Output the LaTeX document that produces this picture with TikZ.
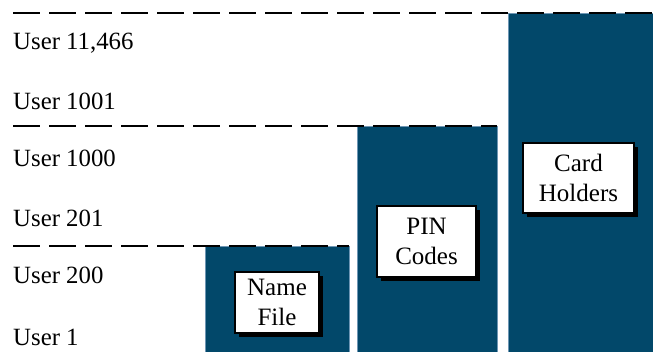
\documentclass[tikz,border=0pt]{standalone}
\usepackage{fontspec}
\setmainfont{Liberation Serif}
\usetikzlibrary{shadows}
\definecolor{barblue}{RGB}{2,72,106}
\definecolor{baredge}{RGB}{110,150,180}
\begin{document}
\begin{tikzpicture}[x=1pt,y=-1pt,
  bar/.style={fill=barblue,draw=baredge,line width=0.9pt},
  level/.style={draw=black,line width=2pt,dash pattern=on 27pt off 9pt},
  userlbl/.style={anchor=base west,inner sep=0pt,font=\fontsize{24.8}{28}\selectfont},
  tag/.style={draw=black,fill=white,line width=1.4pt,align=center,inner sep=0pt,
    font=\fontsize{25}{29.5}\selectfont,
    drop shadow={shadow xshift=4pt,shadow yshift=-4pt,fill=black,opacity=1}}]
\useasboundingbox (0,0) rectangle (653,352);

% storage bars
\path[bar] (205.5,246) rectangle (349,353);
\path[bar] (357.5,126) rectangle (497,353);
\path[bar] (508.5,13) rectangle (654,353);

% range boundaries
\draw[level] (13,13) -- (653,13);
\draw[level] (13,126) -- (497,126);
\draw[level] (13,246) -- (349,246);

% user numbers
\node[userlbl] (u11466) at (13,50) {User 11,466};
\node[userlbl] (u1001) at (13,110) {User 1001};
\node[userlbl] (u1000) at (13,167) {User 1000};
\node[userlbl] (u201) at (13,227) {User 201};
\node[userlbl] (u200) at (13,284) {User 200};
\node[userlbl] (u1) at (13,345) {User 1};

% file labels
\node[tag,minimum width=84pt,minimum height=61pt] (name) at (277,302.5) {Name\\File};
\node[tag,minimum width=99pt,minimum height=71pt] (pin) at (426.5,241.5) {PIN\\Codes};
\node[tag,minimum width=111pt,minimum height=70pt] (card) at (578.5,178) {Card\\Holders};
\end{tikzpicture}
\end{document}
